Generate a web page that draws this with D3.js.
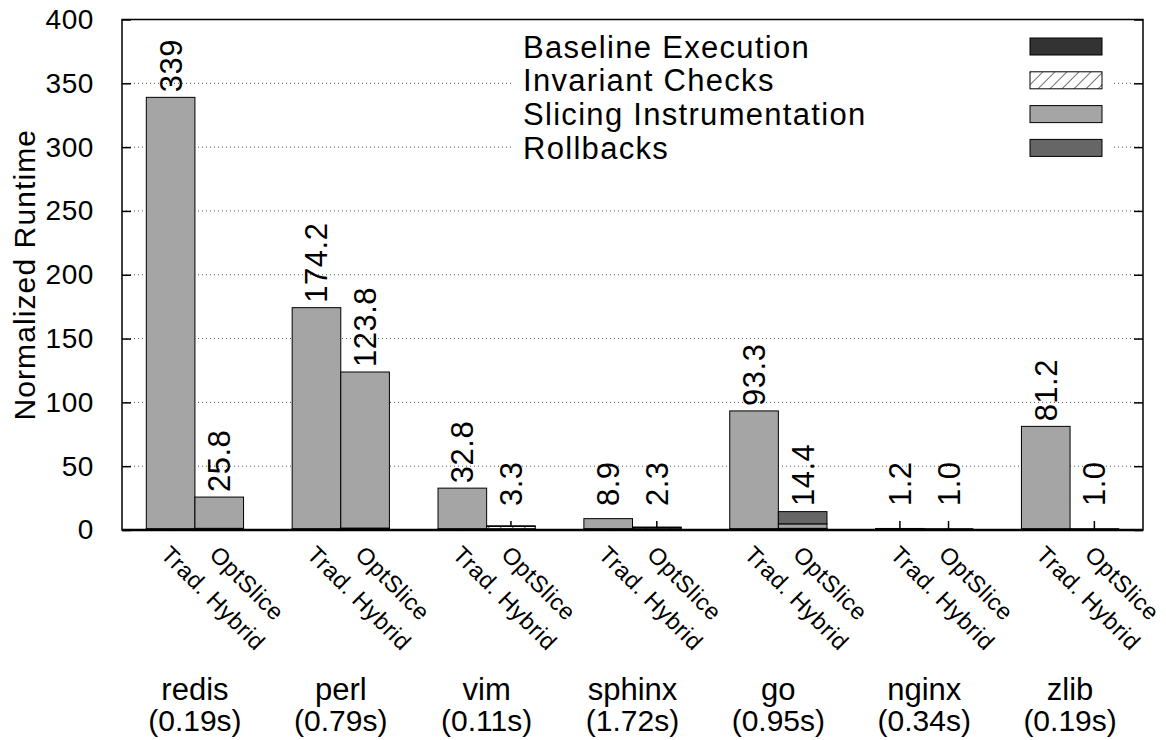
<!DOCTYPE html>
<html>
<head>
<meta charset="utf-8">
<script src="https://cdn.jsdelivr.net/npm/d3@7"></script>
<style>
  html, body { margin: 0; padding: 0; background: #fff; }
  svg { display: block; }
  text { font-family: "Liberation Sans", Arial, Helvetica, sans-serif; fill: #000; }
</style>
</head>
<body>
<svg id="chart" width="1166" height="740"></svg>
<script>
// ---- data ----
const benchmarks = ["redis", "perl", "vim", "sphinx", "go", "nginx", "zlib"];
const runtimes = ["(0.19s)", "(0.79s)", "(0.11s)", "(1.72s)", "(0.95s)", "(0.34s)", "(0.19s)"];
const configs = ["Trad. Hybrid", "OptSlice"];
const components = ["Baseline Execution", "Invariant Checks", "Slicing Instrumentation", "Rollbacks"];

const baselineTrad  = [1.0, 1.0, 1.0, 1.0, 1.0, 1.0, 1.0];
const invariantTrad = [0, 0, 0, 0, 0, 0, 0];
const slicingTrad   = [338, 173.2, 31.8, 7.9, 92.3, 0.2, 80.2];
const rollbackTrad  = [0, 0, 0, 0, 0, 0, 0];

const baselineOpt  = [1.0, 1.0, 1.0, 1.0, 1.0, 1.0, 1.0];
const invariantOpt = [0.3, 0.5, 1.8, 1.0, 0.3, 0, 0];
const slicingOpt   = [24.5, 122.3, 0.5, 0.3, 3.5, 0, 0];
const rollbackOpt  = [0, 0, 0, 0, 9.6, 0, 0];

const labelsTrad = ["339", "174.2", "32.8", "8.9", "93.3", "1.2", "81.2"];
const labelsOpt  = ["25.8", "123.8", "3.3", "2.3", "14.4", "1.0", "1.0"];

const yTicks = [0, 50, 100, 150, 200, 250, 300, 350, 400];

// ---- build table ----
const rows = [];
benchmarks.forEach((b, i) => {
  rows.push({ bench: b, config: configs[0], label: labelsTrad[i],
    vals: [baselineTrad[i], invariantTrad[i], slicingTrad[i], rollbackTrad[i]] });
  rows.push({ bench: b, config: configs[1], label: labelsOpt[i],
    vals: [baselineOpt[i], invariantOpt[i], slicingOpt[i], rollbackOpt[i]] });
});
rows.forEach(r => {
  let acc = 0;
  r.segs = r.vals.map((v, k) => { const s = { k, y0: acc, y1: acc + v }; acc += v; return s; });
  r.total = acc;
});

// ---- layout ----
const L = 122, R = 1143, T = 19.5, B = 530;
const svg = d3.select("#chart");
const defs = svg.append("defs");
const hatch = defs.append("pattern").attr("id", "hatch").attr("patternUnits", "userSpaceOnUse")
  .attr("width", 8.5).attr("height", 8.5).attr("patternTransform", "rotate(45)");
hatch.append("rect").attr("width", 8.5).attr("height", 8.5).attr("fill", "#fff");
hatch.append("line").attr("x1", 0).attr("y1", 0).attr("x2", 0).attr("y2", 8.5)
  .attr("stroke", "#000").attr("stroke-width", 1.1);

const fills = ["#333333", "url(#hatch)", "#a5a5a5", "#666666"];

const x0 = d3.scaleBand().domain(benchmarks).range([L, R]).paddingInner(1 / 3).paddingOuter(1 / 6);
const x1 = d3.scaleBand().domain(configs).range([0, x0.bandwidth()]);
const y = d3.scaleLinear().domain([0, 400]).range([B, T]);

// grid
svg.append("g").selectAll("line").data(yTicks.filter(t => t > 0 && t < 400)).join("line")
  .attr("x1", L).attr("x2", R).attr("y1", d => y(d)).attr("y2", d => y(d))
  .attr("stroke", "#555").attr("stroke-width", 1).attr("stroke-dasharray", "1,3");

// y axis ticks (left, inward) + labels
const yAxisL = d3.axisLeft(y).tickValues(yTicks).tickSize(-9).tickPadding(28);
const gL = svg.append("g").attr("transform", `translate(${L},0)`).call(yAxisL);
gL.select(".domain").remove();
gL.selectAll("line").attr("stroke", "#000").attr("stroke-width", 1.5);
gL.selectAll("text").style("font-size", "28px").style("letter-spacing", "0.6px")
  .style("font-family", "Liberation Sans, Arial, sans-serif");

const yAxisR = d3.axisRight(y).tickValues(yTicks).tickSize(-9).tickFormat("");
const gR = svg.append("g").attr("transform", `translate(${R},0)`).call(yAxisR);
gR.select(".domain").remove();
gR.selectAll("line").attr("stroke", "#000").attr("stroke-width", 1.5);

// x ticks at bar centers (inward)
svg.append("g").selectAll("line").data(rows).join("line")
  .attr("x1", d => x0(d.bench) + x1(d.config) + x1.bandwidth() / 2)
  .attr("x2", d => x0(d.bench) + x1(d.config) + x1.bandwidth() / 2)
  .attr("y1", B).attr("y2", B - 9).attr("stroke", "#000").attr("stroke-width", 1.5);

// bars
const barG = svg.append("g").selectAll("g").data(rows).join("g")
  .attr("transform", d => `translate(${x0(d.bench) + x1(d.config)},0)`);
barG.selectAll("rect").data(d => d.segs.filter(s => s.y1 > s.y0)).join("rect")
  .attr("x", 0).attr("width", x1.bandwidth())
  .attr("y", s => y(s.y1)).attr("height", s => y(s.y0) - y(s.y1))
  .attr("fill", s => fills[s.k]).attr("stroke", "#000").attr("stroke-width", 1);

// value labels (rotated)
svg.append("g").selectAll("text").data(rows).join("text")
  .attr("transform", d => {
    const cx = x0(d.bench) + x1(d.config) + x1.bandwidth() / 2;
    const yy = Math.min(y(d.total) - 5, y(0) - 24);
    return `translate(${cx + 11},${yy}) rotate(-90)`;
  })
  .style("font-size", "31px").style("letter-spacing", "0.5px").attr("text-anchor", "start")
  .text(d => d.label);

// frame
svg.append("rect").attr("x", L).attr("y", T).attr("width", R - L).attr("height", B - T)
  .attr("fill", "none").attr("stroke", "#000").attr("stroke-width", 1.5);
svg.append("line").attr("x1", L).attr("x2", R).attr("y1", B).attr("y2", B)
  .attr("stroke", "#000").attr("stroke-width", 2.5);

// rotated config labels
svg.append("g").selectAll("text").data(rows).join("text")
  .attr("transform", d => {
    const cx = x0(d.bench) + x1(d.config) + x1.bandwidth() / 2;
    return `translate(${cx - 11},${B + 26}) rotate(45)`;
  })
  .style("font-size", "23.5px").style("letter-spacing", "0.6px").attr("text-anchor", "start")
  .text(d => d.config);

// group labels
const grp = svg.append("g").selectAll("g").data(benchmarks).join("g")
  .attr("transform", d => `translate(${x0(d) + x0.bandwidth() / 2},0)`);
grp.append("text").attr("y", 700).attr("text-anchor", "middle").style("font-size", "31px").text(d => d);
grp.append("text").attr("y", 731).attr("text-anchor", "middle").style("font-size", "30px")
  .text((d, i) => runtimes[i]);

// y title
svg.append("text").attr("transform", `translate(35,${(T + B) / 2}) rotate(-90)`)
  .attr("text-anchor", "middle").style("font-size", "30px").style("letter-spacing", "1.1px")
  .text("Normalized Runtime");

// legend
const lg = svg.append("g");
lg.append("rect").attr("x", 514).attr("y", 29).attr("width", 598).attr("height", 136).attr("fill", "#fff");
const items = lg.selectAll("g").data(components).join("g")
  .attr("transform", (d, i) => `translate(0,${46.5 + i * 33.8})`);
items.append("text").attr("x", 523).attr("y", 0).attr("dy", "0.36em")
  .style("font-size", "31px").style("letter-spacing", "1.3px").text(d => d);
items.append("rect").attr("x", 1030).attr("y", -8.5).attr("width", 72).attr("height", 17)
  .attr("fill", (d, i) => fills[i]).attr("stroke", "#000").attr("stroke-width", 1);
</script>
</body>
</html>
